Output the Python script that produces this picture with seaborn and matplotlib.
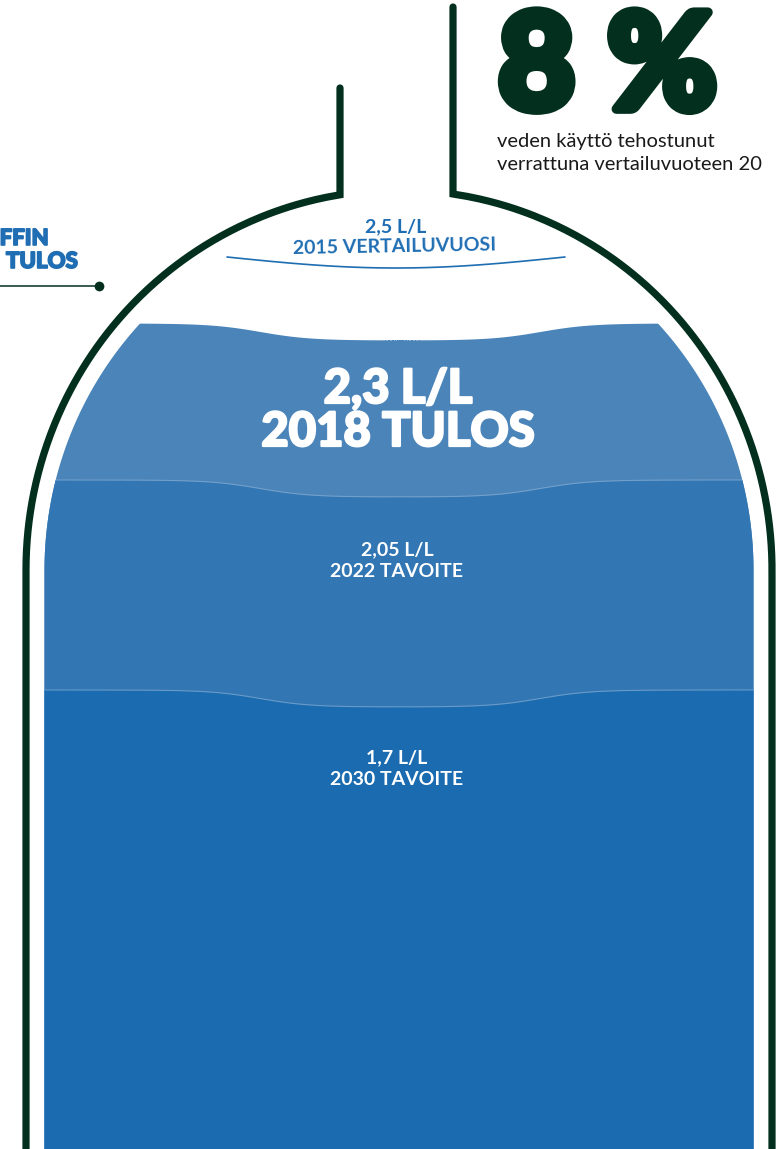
import numpy as np
import pandas as pd
import seaborn as sns
import matplotlib.pyplot as plt
import matplotlib.patheffects as pe
from matplotlib.path import Path
from matplotlib.patches import PathPatch

# Datos: litros de agua por litro de producto
years = [2015, 2018, 2022, 2030]
litres = [2.5, 2.3, 2.05, 1.7]
kinds = ['VERTAILUVUOSI', 'TULOS', 'TAVOITE', 'TAVOITE']
improvement = 8
caption = ['veden käyttö tehostunut', 'verrattuna vertailuvuoteen 20']
side_label = ['FFIN', 'TULOS']

# layout (pixels) - nivel de cada superficie dentro de la botella
surface_y = [262, 323, 480, 690]
layer_colors = ['#4a84b9', '#3276b3', '#1a6baf']
dark = '#03301e'
blue_text = '#1f6db3'

sns.set_theme(style='white')
plt.rcParams['font.family'] = ['Lato', 'DejaVu Sans']

fig = plt.figure(figsize=(7.78, 11.49), dpi=100)
ax = fig.add_axes([0, 0, 1, 1])

CX, CY = 399, 570
A_OUT, B_OUT = 373, 380


def half_width(y, a, b):
    t = np.clip((CY - np.asarray(y, float)) / b, 0, 1)
    return a * np.sqrt(1 - t ** 2)


# forma interior (agua) para recortar las capas
yy = np.linspace(CY - 361, 1160, 400)
hw = half_width(yy, 354.5, 361)
inner = np.concatenate([np.c_[CX - hw, yy], np.c_[CX + hw, yy][::-1]])
inner_patch = PathPatch(Path(inner, closed=True), facecolor='none', edgecolor='none',
                        transform=ax.transData)
ax.add_patch(inner_patch)

# capas de agua con superficie ondulada
xs = np.linspace(0, 778, 600)
bump = 0.5 * (np.tanh((xs - 260) / 50) - np.tanh((xs - 540) / 50))
for i, col in enumerate(layer_colors):
    top = surface_y[i + 1] + 17 * bump
    poly = ax.fill_between(xs, top, 1160, color=col, lw=0)
    poly.set_clip_path(inner_patch)
    if i > 0:
        ln, = ax.plot(xs, top, color='#8fb4d8', lw=0.8, alpha=0.6)
        ln.set_clip_path(inner_patch)


# contorno de la botella (cuello recto + hombro eliptico + lado recto)
def outline(neck_x, neck_top, sign):
    dx = abs(neck_x - CX)
    y0 = CY - B_OUT * np.sqrt(1 - (dx / A_OUT) ** 2)
    yo = np.linspace(y0, 1160, 400)
    xo = CX + sign * half_width(yo, A_OUT, B_OUT)
    return pd.DataFrame({'x': np.r_[xo[0], xo], 'y': np.r_[neck_top, yo]})


for side in (outline(340, 88, -1), outline(453, 7, 1)):
    sns.lineplot(data=side, x='x', y='y', sort=False, estimator=None, color=dark,
                 lw=5.2, ax=ax, solid_joinstyle='miter')

# linea del año de referencia 2015
xl = np.linspace(227, 565, 100)
ref = pd.DataFrame({'x': xl, 'y': surface_y[0] - 5 + 11 * np.sin(np.pi * (xl - 227) / 338)})
sns.lineplot(data=ref, x='x', y='y', sort=False, estimator=None, color=blue_text, lw=1.2, ax=ax)

# etiquetas
fmt = lambda v: f'{v:g}'.replace('.', ',') + ' L/L'
heavy_w = [pe.withStroke(linewidth=1.6, foreground='white')]
ax.text(396, 232, fmt(litres[0]), ha='center', va='baseline', fontsize=14,
        fontweight='bold', color=blue_text)
ax.text(395, 254, f'{years[0]} {kinds[0]}', ha='center', va='baseline', fontsize=14,
        fontweight='bold', color=blue_text, rotation=1)
ax.text(398, 403, fmt(litres[1]), ha='center', va='baseline', fontsize=34,
        fontweight='black', color='white', path_effects=heavy_w)
ax.text(398, 446, f'{years[1]} {kinds[1]}', ha='center', va='baseline', fontsize=34,
        fontweight='black', color='white', path_effects=heavy_w)
for lvl, yr, kd, yb in zip(litres[2:], years[2:], kinds[2:], [555, 763]):
    ax.text(397, yb, fmt(lvl), ha='center', va='baseline', fontsize=14,
            fontweight='bold', color='white')
    ax.text(397, yb + 22, f'{yr} {kd}', ha='center', va='baseline', fontsize=14,
            fontweight='bold', color='white')

ax.text(498, 109, f'{improvement} %', ha='left', va='baseline', fontsize=96,
        fontweight='black', color=dark,
        path_effects=[pe.withStroke(linewidth=7, foreground=dark)])
ax.text(497, 147, caption[0], ha='left', va='baseline', fontsize=14.5, color='#1a1a1a')
ax.text(497, 170, caption[1], ha='left', va='baseline', fontsize=14.5, color='#1a1a1a')

heavy_b = [pe.withStroke(linewidth=1.2, foreground=blue_text)]
ax.text(49, 245, side_label[0], ha='right', va='baseline', fontsize=16,
        fontweight='black', color=blue_text, path_effects=heavy_b)
ax.text(78, 268, side_label[1], ha='right', va='baseline', fontsize=16,
        fontweight='black', color=blue_text, path_effects=heavy_b)
ax.plot([0, 99], [286, 286], color=dark, lw=1.1)
ax.plot([99], [286], 'o', color=dark, ms=6)

ax.set_xlim(0, 778)
ax.set_ylim(1149, 0)
ax.axis('off')
fig.savefig('out.png', dpi=100)
